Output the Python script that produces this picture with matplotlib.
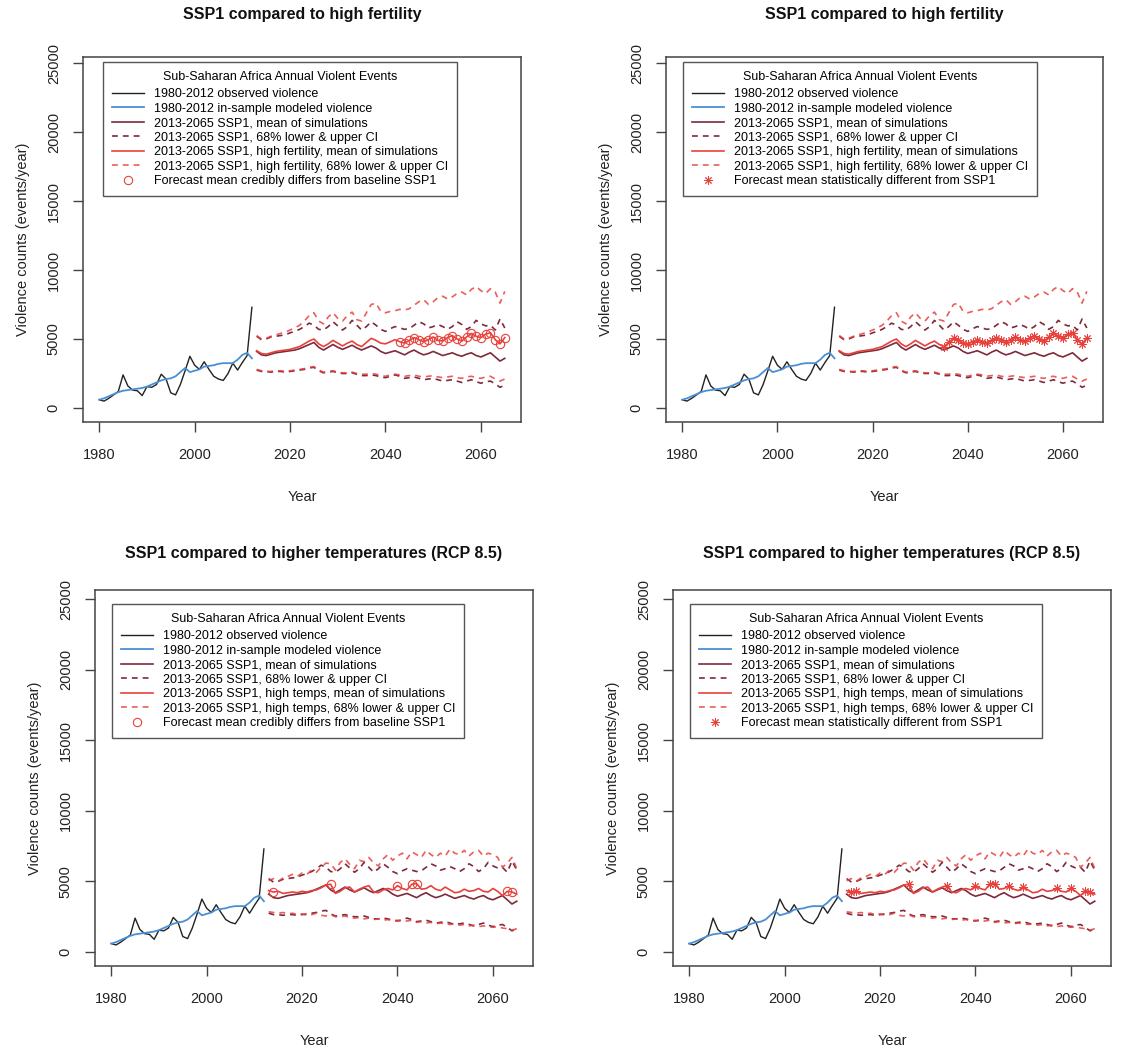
import matplotlib.pyplot as plt
import numpy as np

plt.rcParams['font.family'] = ['Liberation Sans', 'DejaVu Sans']

W, H = 1126, 1049

# observed record and in-sample fit, 1980-2012
years_obs = np.arange(1980, 2013)
observed = [600, 500, 700, 950, 1200, 2400, 1600, 1300, 1250, 900,
            1550, 1500, 1700, 2450, 2100, 1100, 950, 1700, 2700, 3750,
            3100, 2800, 3350, 2800, 2300, 2100, 2000, 2500, 3250, 2750,
            3300, 3800, 7300]
insample = [600, 700, 850, 1000, 1150, 1250, 1300, 1350, 1400, 1450,
            1550, 1700, 1850, 2000, 2100, 2150, 2300, 2600, 2900, 2600,
            2700, 2800, 3000, 3050, 3100, 3200, 3250, 3250, 3250, 3500,
            3850, 4000, 3600]

# forecasts, 2013-2065
years_fc = np.arange(2013, 2066)
ssp1_mean = [4100, 3850, 3800, 3900, 4000, 4050, 4100, 4150, 4200, 4300,
             4450, 4600, 4750, 4400, 4200, 4400, 4600, 4400, 4250, 4400,
             4550, 4350, 4200, 4350, 4500, 4350, 4100, 3950, 4050, 4150,
             4000, 3850, 4050, 4200, 4000, 3850, 3950, 4100, 3950, 3800,
             3900, 4000, 3850, 3750, 3900, 4000, 3800, 3700, 3850, 4000,
             3700, 3400, 3600]
ssp1_lo = [2750, 2650, 2650, 2600, 2650, 2650, 2600, 2650, 2700, 2750,
           2800, 2900, 2950, 2700, 2550, 2600, 2650, 2550, 2500, 2500,
           2550, 2450, 2350, 2350, 2400, 2350, 2250, 2200, 2300, 2400,
           2300, 2150, 2200, 2250, 2150, 2050, 2100, 2150, 2050, 1950,
           2000, 2050, 1950, 1850, 1950, 2050, 1900, 1800, 1900, 1950,
           1750, 1500, 1650]
ssp1_hi = [5200, 4950, 5000, 5150, 5200, 5250, 5300, 5450, 5550, 5700,
           5900, 6150, 6000, 5700, 5650, 5900, 6250, 5950, 5650, 5900,
           6350, 6000, 5650, 5900, 6250, 6000, 5700, 5550, 5750, 5900,
           5800, 5700, 5750, 6000, 6250, 6100, 5800, 5900, 6050, 5900,
           5700, 5900, 6250, 6050, 5700, 5900, 6350, 6100, 5950, 6000,
           5650, 6450, 5800]

fert_mean = [4150, 3950, 3900, 4000, 4100, 4150, 4200, 4250, 4350, 4450,
             4650, 4850, 5000, 4650, 4450, 4650, 4900, 4700, 4500, 4700,
             4850, 4600, 4450, 4750, 5050, 4900, 4700, 4650, 4800, 4950,
             4800, 4700, 4900, 5100, 4950, 4800, 4950, 5150, 4900, 4850,
             5100, 5250, 5000, 4850, 5150, 5400, 5200, 5100, 5350, 5450,
             4950, 4650, 5100]
fert_lo = [2800, 2700, 2650, 2650, 2700, 2700, 2650, 2700, 2750, 2800,
           2850, 2950, 3000, 2750, 2600, 2650, 2700, 2600, 2550, 2550,
           2600, 2500, 2450, 2450, 2500, 2450, 2350, 2300, 2400, 2450,
           2400, 2300, 2350, 2400, 2300, 2250, 2300, 2350, 2250, 2200,
           2250, 2300, 2200, 2150, 2250, 2300, 2200, 2150, 2250, 2300,
           2100, 1950, 2100]
fert_hi = [5250, 5000, 5050, 5200, 5300, 5400, 5500, 5650, 5800, 6000,
           6300, 6700, 6900, 6300, 6100, 6600, 6900, 6500, 6300, 6700,
           6950, 6400, 6300, 6900, 7500, 7600, 7000, 6900, 7000, 7050,
           7150, 7100, 7200, 7450, 7700, 7850, 7500, 7700, 8000, 8100,
           7900, 8050, 8300, 8400, 8200, 8600, 8800, 8500, 8300, 8650,
           8400, 7600, 8450]

temp_mean = [4350, 4250, 4300, 4150, 4200, 4250, 4200, 4300, 4250, 4350,
             4400, 4550, 4750, 4800, 4150, 4300, 4550, 4600, 4250, 4450,
             4600, 4700, 4250, 4200, 4400, 4500, 4400, 4700, 4500, 4400,
             4800, 4850, 4450, 4500, 4700, 4450, 4350, 4600, 4400, 4200,
             4250, 4450, 4300, 4350, 4500, 4300, 4250, 4500, 4300, 4000,
             4300, 4250, 4100]
temp_lo = [2850, 2800, 2750, 2800, 2700, 2750, 2650, 2700, 2600, 2650,
           2750, 2600, 2550, 2650, 2500, 2500, 2550, 2450, 2400, 2450,
           2350, 2400, 2300, 2350, 2250, 2300, 2200, 2250, 2150, 2200,
           2250, 2100, 2150, 2050, 2100, 2000, 2050, 2000, 1950, 2000,
           1900, 1950, 1850, 1900, 1800, 1850, 1800, 1750, 1800, 1700,
           1650, 1550, 1650]
temp_hi = [5050, 5200, 5000, 5250, 5350, 5500, 5350, 5600, 5500, 5800,
           5650, 6000, 6300, 6250, 5800, 6350, 6600, 6200, 5900, 6500,
           6400, 6700, 6300, 6100, 6600, 6900, 6500, 6800, 7000, 6600,
           7100, 6900, 6700, 7200, 6900, 6700, 7000, 6800, 7300, 7000,
           6900, 7200, 6800, 7100, 7200, 6800, 7000, 6900, 6700, 6000,
           6300, 6700, 5900]

# years where the scenario mean departs from baseline
sig_fert_cred = list(range(2043, 2066))
sig_fert_stat = list(range(2035, 2066))
sig_temp_cred = [2014, 2026, 2040, 2043, 2044, 2063, 2064]
sig_temp_stat = [2014, 2015, 2026, 2034, 2040, 2043, 2044, 2047, 2050,
                 2057, 2060, 2063, 2064]

col_obs = "#222222"
col_fit = "#4a8fd4"
col_ssp1 = "#7d2a3c"
col_scen = "#e8413c"
dash = (0, (3.5, 3))

fig = plt.figure(figsize=(W / 100, H / 100), dpi=100)


def px_rect(x0, y0, x1, y1):
    return [x0 / W, 1 - y1 / H, (x1 - x0) / W, (y1 - y0) / H]


def draw_panel(rect, ylim, title, title_pad, legend_xy, scen, scen_mean, scen_lo, scen_hi,
               sig_years, sig_marker, sig_label):
    ax = fig.add_axes(px_rect(*rect))

    ax.plot(years_obs, observed, color=col_obs, lw=1.0, label="1980-2012 observed violence")
    ax.plot(years_obs, insample, color=col_fit, lw=1.3, label="1980-2012 in-sample modeled violence")

    ax.plot(years_fc, ssp1_mean, color=col_ssp1, lw=1.2, label="2013-2065 SSP1, mean of simulations")
    ax.plot(years_fc, ssp1_lo, color=col_ssp1, lw=1.2, ls=dash,
            label="2013-2065 SSP1, 68% lower & upper CI")
    ax.plot(years_fc, ssp1_hi, color=col_ssp1, lw=1.2, ls=dash)

    ax.plot(years_fc, scen_mean, color=col_scen, lw=1.2,
            label=f"2013-2065 SSP1, {scen}, mean of simulations")
    ax.plot(years_fc, scen_lo, color=col_scen, lw=1.2, ls=dash, alpha=0.85,
            label=f"2013-2065 SSP1, {scen}, 68% lower & upper CI")
    ax.plot(years_fc, scen_hi, color=col_scen, lw=1.2, ls=dash, alpha=0.85)

    lookup = dict(zip(years_fc, scen_mean))
    sig_vals = [lookup[y] for y in sig_years]
    if sig_marker == "o":
        ax.plot(sig_years, sig_vals, ls="none", marker="o", ms=6, mfc="none",
                mec=col_scen, mew=0.8, label=sig_label)
    else:
        ax.plot(sig_years, sig_vals, ls="none", marker=(8, 2, 0), ms=6,
                mec=col_scen, mew=0.7, label=sig_label)

    ax.set_xlim(1976.6, 2068.4)
    ax.set_ylim(*ylim)
    ax.set_xticks([1980, 2000, 2020, 2040, 2060])
    ax.set_yticks([0, 5000, 10000, 15000, 20000, 25000])
    ax.tick_params(axis="both", length=7, width=1, color="#444444", labelsize=10.5,
                   labelcolor="#222222")
    ax.tick_params(axis="x", pad=12)
    ax.tick_params(axis="y", pad=9, labelrotation=90)
    for lab in ax.get_yticklabels():
        lab.set_va("center")
    for sp in ax.spines.values():
        sp.set_color("#444444")
        sp.set_linewidth(1.1)

    ax.set_xlabel("Year", fontsize=10.5, labelpad=20, color="#222222")
    ax.set_ylabel("Violence counts (events/year)", fontsize=10.5, labelpad=12, color="#222222")
    ax.set_title(title, fontsize=11.5, fontweight="bold", pad=title_pad, color="#111111")

    leg = ax.legend(loc="upper left", bbox_to_anchor=(legend_xy[0] / W, 1 - legend_xy[1] / H),
                    bbox_transform=fig.transFigure, borderaxespad=0,
                    title="Sub-Saharan Africa Annual Violent Events",
                    fontsize=9, title_fontsize=9, numpoints=1, handlelength=2.6,
                    handletextpad=0.8, labelspacing=0.2, borderpad=0.7,
                    fancybox=False, framealpha=1, edgecolor="#555555")
    leg.get_frame().set_linewidth(1.0)
    # a bit more room between the legend title and the entries
    leg._legend_box.sep = 4
    return ax


top_ylim = (-1014, 25435)
bot_ylim = (-990, 25640)

draw_panel((83, 57, 521, 422), top_ylim, "SSP1 compared to high fertility", 27, (103, 62),
           "high fertility", fert_mean, fert_lo, fert_hi, sig_fert_cred, "o",
           "Forecast mean credibly differs from baseline SSP1")
draw_panel((666, 57, 1103, 422), top_ylim, "SSP1 compared to high fertility", 27, (683, 62),
           "high fertility", fert_mean, fert_lo, fert_hi, sig_fert_stat, "*",
           "Forecast mean statistically different from SSP1")
draw_panel((95, 590, 533, 966), bot_ylim, "SSP1 compared to higher temperatures (RCP 8.5)", 23,
           (112, 604), "high temps", temp_mean, temp_lo, temp_hi, sig_temp_cred, "o",
           "Forecast mean credibly differs from baseline SSP1")
draw_panel((673, 590, 1111, 966), bot_ylim, "SSP1 compared to higher temperatures (RCP 8.5)", 23,
           (690, 604), "high temps", temp_mean, temp_lo, temp_hi, sig_temp_stat, "*",
           "Forecast mean statistically different from SSP1")

fig.savefig("out.png", dpi=100)
